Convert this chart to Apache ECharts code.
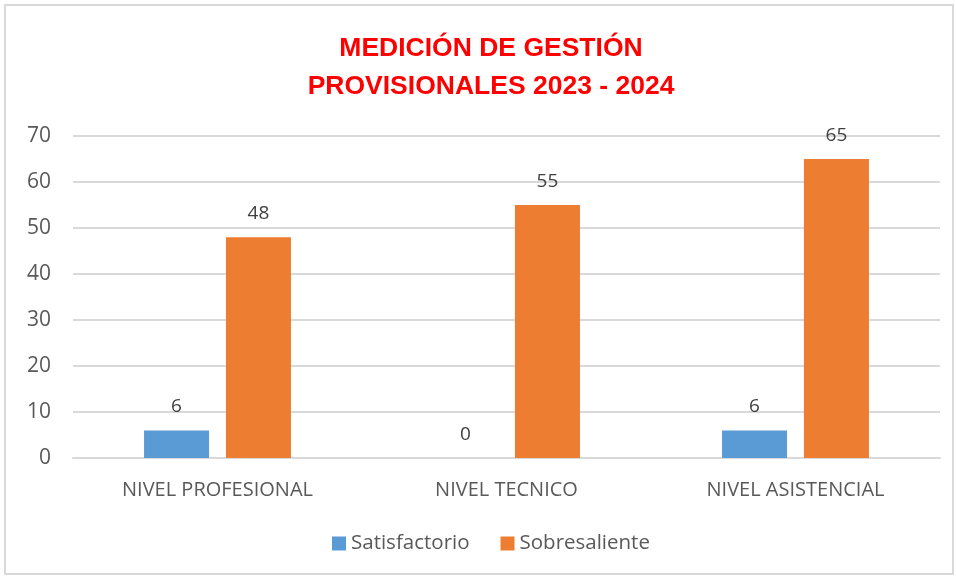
<!DOCTYPE html>
<html>
<head>
<meta charset="utf-8">
<script src="https://cdn.jsdelivr.net/npm/echarts@6/dist/echarts.min.js"></script>
<style>
  html, body { margin: 0; padding: 0; background: #fff; }
  .chart_view {
    position: absolute; left: 4px; top: 4px; width: 950px; height: 571px;
    border: 2px solid #d9d9d9; box-sizing: border-box; background: #fff;
  }
  #mychart { width: 100%; height: 100%; }
</style>
</head>
<body>
<div class="chart_view"><div id="mychart"></div></div>
<script>
var categories = ['NIVEL PROFESIONAL', 'NIVEL TECNICO', 'NIVEL ASISTENCIAL'];
var satisfactorio = [6, 0, 6];
var sobresaliente = [48, 55, 65];
var yTicks = [0, 10, 20, 30, 40, 50, 60, 70];

var labelFont = "Open Sans, Liberation Sans, sans-serif";
var myChart = echarts.init(document.getElementById('mychart'));
var option = {
  backgroundColor: '#fff',
  animation: false,
  title: {
    text: 'MEDICIÓN DE GESTIÓN\nPROVISIONALES 2023 - 2024',
    left: 480,
    textAlign: 'center',
    top: 19,
    textStyle: {
      color: '#ff0000', fontWeight: 'bold', fontSize: 26.5, lineHeight: 38,
      fontFamily: 'Liberation Sans Narrow, Liberation Sans, sans-serif'
    }
  },
  grid: { left: 67, right: 12, top: 130, bottom: 115, containLabel: false },
  legend: {
    bottom: 14,
    left: 321,
    itemWidth: 14, itemHeight: 14, itemGap: 31,
    icon: 'rect',
    textStyle: { color: '#595959', fontSize: 20.5, fontFamily: labelFont },
    data: ['Satisfactorio', 'Sobresaliente']
  },
  xAxis: [{
    type: 'category',
    data: categories,
    axisLine: { show: true, lineStyle: { color: '#d9d9d9', width: 2 } },
    axisTick: { show: false },
    axisLabel: { color: '#595959', fontSize: 20, margin: 22, fontFamily: labelFont }
  }],
  yAxis: [{
    type: 'value',
    min: yTicks[0], max: yTicks[yTicks.length - 1], interval: 10,
    axisLine: { show: false },
    axisTick: { show: false },
    splitLine: { lineStyle: { color: '#d9d9d9', width: 2 } },
    axisLabel: { color: '#595959', fontSize: 21, margin: 22, fontFamily: labelFont }
  }],
  series: [
    {
      name: 'Satisfactorio', type: 'bar', data: satisfactorio,
      barWidth: 65, barGap: '26%',
      itemStyle: { color: '#5b9bd5' },
      label: { show: true, position: 'top', distance: 14, color: '#404040', fontSize: 19, fontFamily: labelFont }
    },
    {
      name: 'Sobresaliente', type: 'bar', data: sobresaliente,
      barWidth: 65, barGap: '26%',
      itemStyle: { color: '#ed7d31' },
      label: { show: true, position: 'top', distance: 14, color: '#404040', fontSize: 19, fontFamily: labelFont }
    }
  ]
};
myChart.setOption(option);
</script>
</body>
</html>
